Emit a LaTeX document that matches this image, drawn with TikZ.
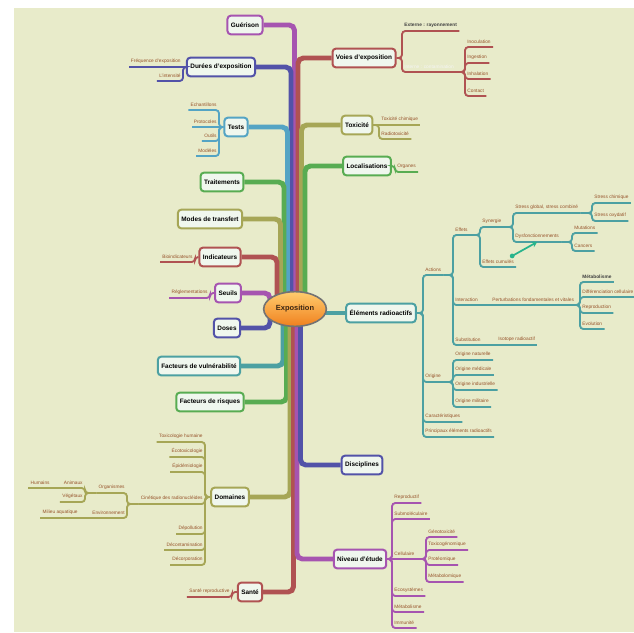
\documentclass[tikz,border=0pt]{standalone}
\usepackage{fontspec}
\setmainfont{Liberation Sans}
\usetikzlibrary{arrows.meta,calc,shapes.geometric}

\definecolor{bgpale}{RGB}{232,235,202}
\definecolor{boxfill}{RGB}{240,247,238}
\definecolor{cpur}{RGB}{166,84,176}
\definecolor{cred}{RGB}{176,82,82}
\definecolor{cind}{RGB}{82,82,168}
\definecolor{cblu}{RGB}{84,164,196}
\definecolor{cgrn}{RGB}{88,172,82}
\definecolor{coli}{RGB}{166,166,86}
\definecolor{ctea}{RGB}{76,160,162}
\definecolor{leafbrown}{RGB}{150,82,42}
\definecolor{orgtop}{RGB}{255,205,110}
\definecolor{orgbot}{RGB}{240,128,30}
\definecolor{arrgreen}{RGB}{40,180,140}

\tikzset{
  topic/.style={draw=#1, line width=1.5pt, rounded corners=2.5pt, fill=boxfill,
    font=\fontsize{4.8}{5.5}\selectfont\bfseries, inner xsep=2.6pt, inner ysep=0pt, minimum height=14pt},
  leaf/.style={font=\fontsize{3.6}{4}\selectfont, text=leafbrown, inner xsep=1.6pt, inner ysep=2.6pt},
  leafdark/.style={leaf, text=black!75, font=\fontsize{3.6}{4}\selectfont\bfseries},
  lane/.style={line width=3.7pt, rounded corners=4pt},
  twig/.style={line width=1.4pt, rounded corners=2.5pt}
}

\begin{document}
\begin{tikzpicture}[x=0.75pt,y=0.75pt,yscale=-1,xscale=1]
\useasboundingbox (0,0) rectangle (634,632);
%Shape: Rectangle (page)
\fill[white] (0,0) rectangle (634,632);
\fill[bgpale] (14,8) rectangle (634,632);

\coordinate (hub) at (295,309);

% Main topics, left
\node[topic=cpur] (guer) at (245,25) {Guérison};
\node[topic=cind] (dur) at (221,67) {Durées d'exposition};
\node[topic=cblu] (tests) at (236,127) {Tests};
\node[topic=cgrn] (trait) at (222,182) {Traitements};
\node[topic=coli] (modes) at (210,219) {Modes de transfert};
\node[topic=cred] (indic) at (220,257) {Indicateurs};
\node[topic=cpur] (seuils) at (228,293) {Seuils};
\node[topic=cind] (doses) at (227,328) {Doses};
\node[topic=ctea] (vuln) at (199,366) {Facteurs de vulnérabilité};
\node[topic=cgrn] (risq) at (210,402) {Facteurs de risques};
\node[topic=coli] (dom) at (230,497) {Domaines};
\node[topic=cred] (sante) at (250,592) {Santé};
% Main topics, right
\node[topic=cred] (voies) at (364,58) {Voies d'exposition};
\node[topic=coli] (tox) at (357,125) {Toxicité};
\node[topic=cgrn] (loc) at (367,166) {Localisations};
\node[topic=ctea] (elem) at (381,313) {Éléments radioactifs};
\node[topic=cind] (disc) at (362,465) {Disciplines};
\node[topic=cpur] (niv) at (360,559) {Niveau d'étude};

%Straight Lines: trunk, upwards
\draw[lane,cpur] ($(hub)+(-0.5,0)$) |- (guer.east);
\draw[lane,cind] ($(hub)+(-4,0)$) |- (dur.east);
\draw[lane,cblu] ($(hub)+(-7.5,0)$) |- (tests.east);
\draw[lane,cgrn] ($(hub)+(-11,0)$) |- (trait.east);
\draw[lane,coli] ($(hub)+(-14.5,0)$) |- (modes.east);
\draw[lane,cred] ($(hub)+(-18,0)$) |- (indic.east);
\draw[lane,cred] ($(hub)+(3,0)$) |- (voies.west);
\draw[lane,coli] ($(hub)+(6.5,0)$) |- (tox.west);
\draw[lane,cgrn] ($(hub)+(10,0)$) |- (loc.west);
%Straight Lines: trunk, downwards
\draw[lane,ctea] ($(hub)+(-12,0)$) |- (vuln.east);
\draw[lane,cgrn] ($(hub)+(-8.5,0)$) |- (risq.east);
\draw[lane,coli] ($(hub)+(-5,0)$) |- (dom.east);
\draw[lane,cred] ($(hub)+(-1.5,0)$) |- (sante.east);
\draw[lane,cpur] ($(hub)+(2,0)$) |- (niv.west);
\draw[lane,cind] ($(hub)+(5.5,0)$) |- (disc.west);
%Straight Lines: short ones
\draw[lane,cpur] (seuils.east) -| ($(hub)+(-25,-4)$);
\draw[lane,cind] (doses.east) -| ($(hub)+(-25,4)$);
\draw[lane,ctea] (hub |- elem.west) -- (elem.west);

%Shape: Ellipse
\node[ellipse, draw=black!55, line width=1.2pt, top color=orgtop, bottom color=orgbot,
  minimum width=47pt, minimum height=26pt, inner sep=0pt,
  font=\fontsize{5.6}{6}\selectfont\bfseries, text=black!70!brown] (expo) at (hub) {Exposition};

% Durées d'exposition
\node[leaf, anchor=south east] (freq) at (183,67) {Fréquence d'exposition};
\node[leaf, anchor=south east] (inten) at (183,81) {L'intensité};
\draw[twig,cind] (dur.west) -- (freq.south west);
\draw[twig,cind] (dur.west) -| (inten.south east) -- (inten.south west);

% Tests
\node[leaf, anchor=south east] (echan) at (219,110) {Echantillons};
\node[leaf, anchor=south east] (proto) at (219,127) {Protocoles};
\node[leaf, anchor=south east] (outil) at (219,141) {Outils};
\node[leaf, anchor=south east] (model) at (219,156) {Modèles};
\draw[twig,cblu] (tests.west) -| (echan.south east) -- (echan.south west);
\draw[twig,cblu] (tests.west) -- (proto.south west);
\draw[twig,cblu] (tests.west) -| (outil.south east) -- (outil.south west);
\draw[twig,cblu] (tests.west) -| (model.south east) -- (model.south west);

% Indicateurs, Seuils, Santé
\node[leaf, anchor=south east] (bioind) at (195,262) {Bioindicateurs};
\draw[twig,cred] (indic.west) -| (bioind.south east) -- (bioind.south west);
\node[leaf, anchor=south east] (regl) at (210,298) {Réglementations};
\draw[twig,cpur] (seuils.west) -| (regl.south east) -- (regl.south west);
\node[leaf, anchor=south east] (srepro) at (232,597) {Santé reproductive};
\draw[twig,cred] (sante.west) -| (srepro.south east) -- (srepro.south west);

% Domaines
\node[leaf, anchor=south east] (toxh) at (205,442) {Toxicologie humaine};
\node[leaf, anchor=south east] (ecotox) at (205,457) {Écotoxicologie};
\node[leaf, anchor=south east] (epid) at (205,472) {Épidémiologie};
\node[leaf, anchor=south east] (cinet) at (205,504) {Cinétique des radionucléides};
\node[leaf, anchor=south east] (depol) at (205,534) {Dépollution};
\node[leaf, anchor=south east] (decont) at (205,550) {Décontamination};
\node[leaf, anchor=south east] (decorp) at (205,565) {Décorporation};
\foreach \k in {toxh,ecotox,epid,cinet,depol,decont,decorp}
  \draw[twig,coli] (dom.west) -| (\k.south east) -- (\k.south west);
\node[leaf, anchor=south east] (orga) at (127,493) {Organismes};
\node[leaf, anchor=south east] (envir) at (127,518) {Environnement};
\draw[twig,coli] (cinet.south west) -| (orga.south east) -- (orga.south west);
\draw[twig,coli] (cinet.south west) -| (envir.south east) -- (envir.south west);
\node[leaf, anchor=south east] (anim) at (85,488) {Animaux};
\node[leaf, anchor=south east] (vege) at (85,502) {Végétaux};
\draw[twig,coli] (orga.south west) -| (anim.south east) -- (anim.south west);
\draw[twig,coli] (orga.south west) -| (vege.south east) -- (vege.south west);
\node[leaf, anchor=south east] (humain) at (52,488) {Humains};
\draw[twig,coli] (anim.south west) -- (humain.south west);
\node[leaf, anchor=south east] (milieu) at (80,518) {Milieu aquatique};
\draw[twig,coli] (envir.south west) -- (milieu.south west);

% Voies d'exposition
\node[leafdark, anchor=south west] (extern) at (402,31) {Externe : rayonnement};
\node[leaf, anchor=south west, text=white!92!gray] (intern) at (402,72) {Interne : contamination};
\draw[twig,cred] (voies.east) -| (extern.south west) -- (extern.south east);
\draw[twig,cred] (voies.east) -| (intern.south west) -- (intern.south east);
\node[leaf, anchor=south west] (inocul) at (465,47) {Inoculation};
\node[leaf, anchor=south west] (ingest) at (465,63) {Ingestion};
\node[leaf, anchor=south west] (inhal) at (465,79) {Inhalation};
\node[leaf, anchor=south west] (contact) at (465,96) {Contact};
\foreach \k in {inocul,ingest,inhal,contact}
  \draw[twig,cred] (intern.south east) -| (\k.south west) -- (\k.south east);

% Toxicité, Localisations
\node[leaf, anchor=south west] (toxchim) at (379,125) {Toxicité chimique};
\node[leaf, anchor=south west] (radiotox) at (379,139) {Radiotoxicité};
\draw[twig,coli] (tox.east) -- (toxchim.south east);
\draw[twig,coli] (tox.east) -| (radiotox.south west) -- (radiotox.south east);
\node[leaf, anchor=south west] (organes) at (395,172) {Organes};
\draw[twig,cgrn] (loc.east) -| (organes.south west) -- (organes.south east);

% Éléments radioactifs
\node[leaf, anchor=south west] (actions) at (423,275) {Actions};
\node[leaf, anchor=south west] (origine) at (423,382) {Origine};
\node[leaf, anchor=south west] (caract) at (423,422) {Caractéristiques};
\node[leaf, anchor=south west] (princ) at (423,437) {Principaux éléments radioactifs};
\foreach \k in {actions,origine,caract,princ}
  \draw[twig,ctea] (elem.east) -| (\k.south west) -- (\k.south east);
\node[leaf, anchor=south west] (effets) at (453,235) {Effets};
\node[leaf, anchor=south west] (interac) at (453,305) {Interaction};
\node[leaf, anchor=south west] (subst) at (453,345) {Substitution};
\foreach \k in {effets,interac,subst}
  \draw[twig,ctea] (actions.south east) -| (\k.south west) -- (\k.south east);
\node[leaf, anchor=south west] (synerg) at (480,227) {Synergie};
\node[leaf, anchor=south west] (cumul) at (480,267) {Effets cumulés};
\draw[twig,ctea] (effets.south east) -| (synerg.south west) -- (synerg.south east);
\draw[twig,ctea] (effets.south east) -| (cumul.south west) -- (cumul.south east);
\node[leaf, anchor=south west] (sglob) at (513,213) {Stress global, stress combiné};
\node[leaf, anchor=south west] (dysf) at (513,242) {Dysfonctionnements};
\draw[twig,ctea] (synerg.south east) -| (sglob.south west) -- (sglob.south east);
\draw[twig,ctea] (synerg.south east) -| (dysf.south west) -- (dysf.south east);
\node[leaf, anchor=south west] (schim) at (592,203) {Stress chimique};
\node[leaf, anchor=south west] (soxy) at (592,221) {Stress oxydatif};
\draw[twig,ctea] (sglob.south east) -| (schim.south west) -- (schim.south east);
\draw[twig,ctea] (sglob.south east) -| (soxy.south west) -- (soxy.south east);
\node[leaf, anchor=south west] (mutat) at (572,233) {Mutations};
\node[leaf, anchor=south west] (cancer) at (572,251) {Cancers};
\draw[twig,ctea] (dysf.south east) -| (mutat.south west) -- (mutat.south east);
\draw[twig,ctea] (dysf.south east) -| (cancer.south west) -- (cancer.south east);
\draw[-{Stealth[length=4pt,width=4.5pt]}, line width=1.3pt, arrgreen] ([xshift=-3pt]cumul.north east) -- (dysf.south);
\fill[arrgreen] ([xshift=-3pt]cumul.north east) circle (1.8pt);
\node[leaf, anchor=south west] (pertur) at (490,305) {Perturbations fondamentales et vitales};
\draw[twig,ctea] (interac.south east) -- (pertur.south east);
\node[leafdark, anchor=south west] (metab) at (580,282) {Métabolisme};
\node[leaf, anchor=south west] (differ) at (580,297) {Différenciation cellulaire};
\node[leaf, anchor=south west] (reprod) at (580,313) {Reproduction};
\node[leaf, anchor=south west] (evolu) at (580,329) {Evolution};
\foreach \k in {metab,differ,reprod,evolu}
  \draw[twig,ctea] (pertur.south east) -| (\k.south west) -- (\k.south east);
\node[leaf, anchor=south west] (isotop) at (496,345) {Isotope radioactif};
\draw[twig,ctea] (subst.south east) -- (isotop.south east);
\node[leaf, anchor=south west] (onat) at (453,360) {Origine naturelle};
\node[leaf, anchor=south west] (omed) at (453,375) {Origine médicale};
\node[leaf, anchor=south west] (oind) at (453,390) {Origine industrielle};
\node[leaf, anchor=south west] (omil) at (453,407) {Origine militaire};
\foreach \k in {onat,omed,oind,omil}
  \draw[twig,ctea] (origine.south east) -| (\k.south west) -- (\k.south east);

% Niveau d'étude
\node[leaf, anchor=south west] (nrepro) at (392,503) {Reproductif};
\node[leaf, anchor=south west] (nsubm) at (392,519) {Submoléculaire};
\node[leaf, anchor=south west] (cellu) at (392,559) {Cellulaire};
\node[leaf, anchor=south west] (ecosy) at (392,596) {Ecosystèmes};
\node[leaf, anchor=south west] (nmetab) at (392,612) {Métabolisme};
\node[leaf, anchor=south west] (immun) at (392,628) {Immunité};
\foreach \k in {nrepro,nsubm,ecosy,nmetab,immun}
  \draw[twig,cpur] (niv.east) -| (\k.south west) -- (\k.south east);
\draw[twig,cpur] (niv.east) -- (cellu.south east);
\node[leaf, anchor=south west] (genot) at (426,537) {Génotoxicité};
\node[leaf, anchor=south west] (toxgen) at (426,550) {Toxicogénomique};
\node[leaf, anchor=south west] (proteo) at (426,565) {Protéomique};
\node[leaf, anchor=south west] (metabo) at (426,582) {Métabolomique};
\foreach \k in {genot,toxgen,proteo,metabo}
  \draw[twig,cpur] (cellu.south east) -| (\k.south west) -- (\k.south east);

\end{tikzpicture}
\end{document}
